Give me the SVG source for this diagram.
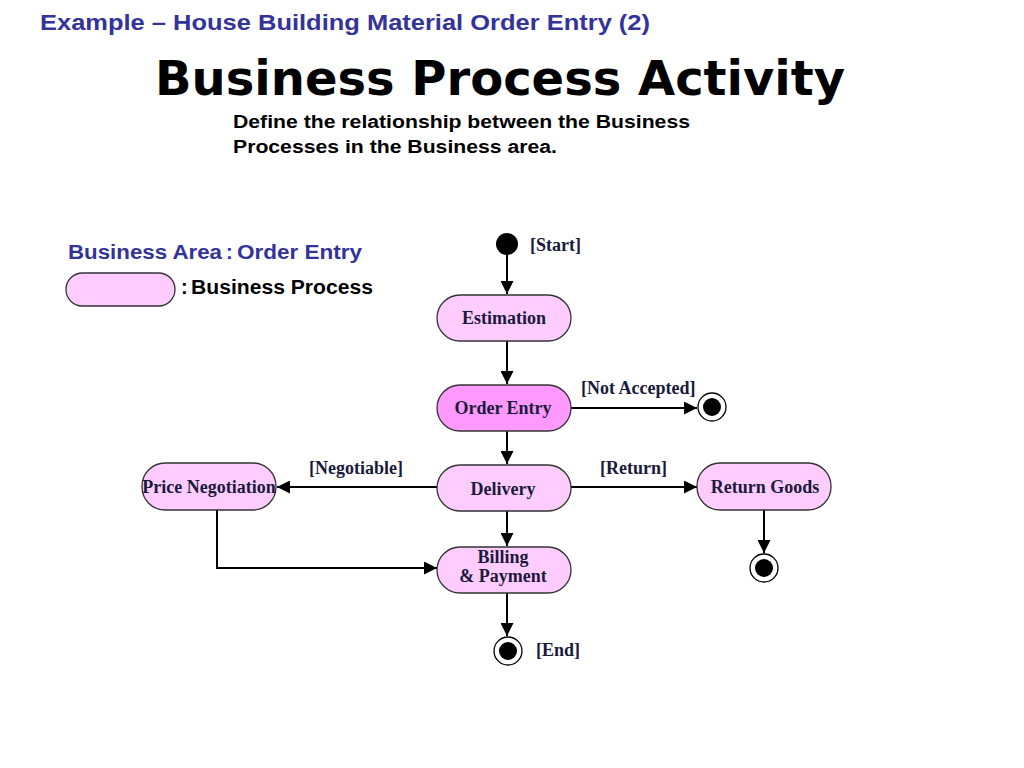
<svg xmlns="http://www.w3.org/2000/svg" width="1024" height="768" viewBox="0 0 1024 768">
<defs>
<style>
.node{fill:#ffccff;stroke:#333333;stroke-width:1.3}
.node.active{fill:#ff99ff}
.nt{font-family:"Liberation Serif","Times New Roman",serif;font-weight:bold;font-size:18px;fill:#1a1a3a;text-anchor:middle}
.lbl{font-family:"Liberation Serif","Times New Roman",serif;font-weight:bold;font-size:18px;fill:#1a1a3a}
.conn{stroke:#000;stroke-width:2;fill:none;marker-end:url(#arr)}
.head{font-family:"Liberation Sans",Arial,sans-serif;font-weight:bold}
</style>
<marker id="arr" viewBox="0 0 10 10" refX="10" refY="5" markerWidth="13" markerHeight="13" markerUnits="userSpaceOnUse" orient="auto">
<path d="M0,0 L10,5 L0,10 z" fill="#000"/>
</marker>
</defs>
<rect width="1024" height="768" fill="#ffffff"/>
<text x="40" y="30" class="head" font-size="22" fill="#333399" textLength="610" lengthAdjust="spacingAndGlyphs">Example – House Building Material Order Entry (2)</text>
<text x="155" y="95" font-family="'DejaVu Sans',Verdana,sans-serif" font-weight="bold" font-size="48" fill="#000" textLength="690" lengthAdjust="spacingAndGlyphs">Business Process Activity</text>
<text x="233" y="128" class="head" font-size="18" fill="#000" textLength="457" lengthAdjust="spacingAndGlyphs">Define the relationship between the Business</text>
<text x="233" y="153" class="head" font-size="18" fill="#000" textLength="324" lengthAdjust="spacingAndGlyphs">Processes in the Business area.</text>

<g id="legend">
<text x="68" y="259" font-family="'Liberation Sans',Arial,sans-serif" font-size="20" fill="#333399" font-weight="bold" textLength="154" lengthAdjust="spacingAndGlyphs">Business Area</text>
<text x="226" y="259" font-family="'Liberation Sans',Arial,sans-serif" font-size="20" fill="#333399" font-weight="bold">:</text>
<text x="237" y="259" font-family="'Liberation Sans',Arial,sans-serif" font-size="20" fill="#333399" font-weight="bold" textLength="125" lengthAdjust="spacingAndGlyphs">Order Entry</text>
<rect x="66" y="273" width="109" height="33" rx="16.5" class="node"/>
<text x="181" y="294" font-family="'Liberation Sans',Arial,sans-serif" font-size="20" fill="#000" font-weight="bold">:</text>
<text x="191" y="294" font-family="'Liberation Sans',Arial,sans-serif" font-size="20" fill="#000" font-weight="bold" textLength="182" lengthAdjust="spacingAndGlyphs">Business Process</text>
</g>

<g id="connectors">
<line x1="507" y1="255" x2="507" y2="294" class="conn"/>
<line x1="507" y1="341" x2="507" y2="384" class="conn"/>
<line x1="571" y1="408" x2="697" y2="408" class="conn"/>
<line x1="507" y1="431" x2="507" y2="464" class="conn"/>
<line x1="437" y1="487" x2="277" y2="487" class="conn"/>
<line x1="571" y1="487" x2="697" y2="487" class="conn"/>
<line x1="764" y1="510" x2="764" y2="553" class="conn"/>
<line x1="507" y1="511" x2="507" y2="546" class="conn"/>
<polyline points="217,510 217,568 437,568" class="conn"/>
<line x1="507" y1="593" x2="507" y2="636" class="conn"/>
<text x="530" y="251" class="lbl">[Start]</text>
<text x="581" y="394" class="lbl">[Not Accepted]</text>
<text x="309" y="474" class="lbl">[Negotiable]</text>
<text x="600" y="474" class="lbl">[Return]</text>
<text x="536" y="656" class="lbl">[End]</text>
</g>

<g id="start"><circle cx="507" cy="244" r="11" fill="#000"/></g>

<g id="estimation">
<rect x="437" y="295" width="134" height="46" rx="23" class="node"/>
<text x="504" y="324" class="nt">Estimation</text>
</g>
<g id="order-entry">
<rect x="437" y="385" width="134" height="46" rx="23" class="node active"/>
<text x="503" y="414" class="nt">Order Entry</text>
</g>
<g id="end-not-accepted">
<circle cx="712" cy="407" r="14" fill="#fff" stroke="#000" stroke-width="1.3"/>
<circle cx="712" cy="407" r="9" fill="#000"/>
</g>
<g id="delivery">
<rect x="437" y="465" width="134" height="46" rx="23" class="node"/>
<text x="503" y="495" class="nt">Delivery</text>
</g>
<g id="price-negotiation">
<rect x="142" y="463" width="134" height="47" rx="23" class="node"/>
<text x="209" y="493" class="nt">Price Negotiation</text>
</g>
<g id="return-goods">
<rect x="697" y="463" width="134" height="47" rx="23" class="node"/>
<text x="765" y="493" class="nt">Return Goods</text>
</g>
<g id="end-return">
<circle cx="764" cy="568" r="14" fill="#fff" stroke="#000" stroke-width="1.3"/>
<circle cx="764" cy="568" r="9" fill="#000"/>
</g>
<g id="billing">
<rect x="437" y="547" width="134" height="46" rx="23" class="node"/>
<text x="503" y="563" class="nt">Billing</text>
<text x="503" y="582" class="nt">&amp; Payment</text>
</g>
<g id="end">
<circle cx="508" cy="651" r="14" fill="#fff" stroke="#000" stroke-width="1.3"/>
<circle cx="508" cy="651" r="9" fill="#000"/>
</g>
</svg>
